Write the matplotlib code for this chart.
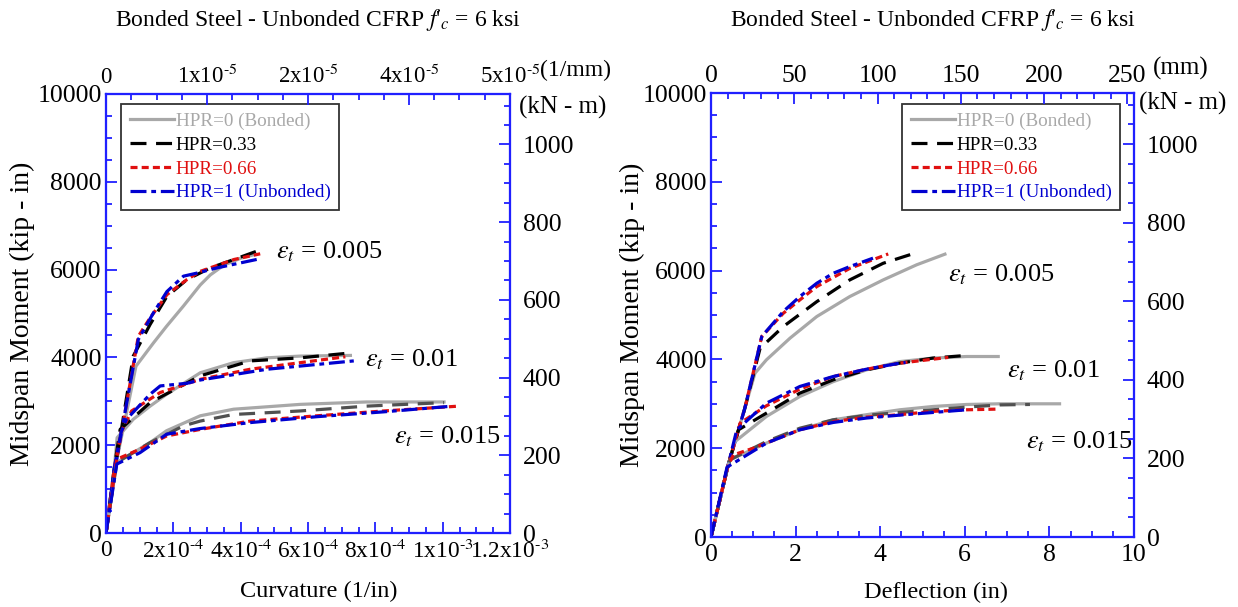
import numpy as np
import matplotlib
matplotlib.use("Agg")
import matplotlib.pyplot as plt
from matplotlib.ticker import MultipleLocator, FixedLocator

plt.rcParams['font.family'] = ['Liberation Serif', 'DejaVu Serif']
plt.rcParams['mathtext.fontset'] = 'stix'

# ---- data: curvature plot (1/in, kip-in) ----
# eps_t = 0.005
c005_x0 = [0, 0.3e-4, 0.6e-4, 0.89e-4, 1.41e-4, 1.8e-4, 2.3e-4, 2.8e-4, 3.1e-4, 3.5e-4, 4.0e-4, 4.4e-4]
c005_y0 = [0, 1600, 2700, 3800, 4330, 4710, 5170, 5650, 5880, 6100, 6260, 6340]
c005_x1 = [0, 0.3e-4, 0.55e-4, 0.81e-4, 1.31e-4, 1.81e-4, 2.4e-4, 3.1e-4, 3.8e-4, 4.48e-4]
c005_y1 = [0, 1600, 2800, 4030, 4750, 5390, 5770, 6040, 6230, 6420]
c005_x2 = [0, 0.3e-4, 0.6e-4, 0.96e-4, 1.31e-4, 1.81e-4, 2.4e-4, 2.8e-4, 3.8e-4, 4.58e-4]
c005_y2 = [0, 1600, 2900, 4480, 4900, 5430, 5770, 5960, 6230, 6360]
c005_x3 = [0, 0.3e-4, 0.6e-4, 0.96e-4, 1.41e-4, 1.81e-4, 2.3e-4, 2.7e-4, 3.3e-4, 4.53e-4]
c005_y3 = [0, 1600, 2900, 4410, 5015, 5500, 5850, 5920, 6040, 6240]
# eps_t = 0.01
c010_x0 = [0, 0.25e-4, 0.33e-4, 0.81e-4, 1.31e-4, 1.8e-4, 2.8e-4, 3.79e-4, 4.78e-4, 5.77e-4, 7.26e-4]
c010_y0 = [0, 1500, 2170, 2590, 2890, 3160, 3650, 3880, 3990, 4030, 4045]
c010_x1 = [0, 0.25e-4, 0.42e-4, 1.31e-4, 2.8e-4, 4.28e-4, 5.77e-4, 7.11e-4]
c010_y1 = [0, 1500, 2360, 2970, 3580, 3920, 3990, 4090]
c010_x2 = [0, 0.25e-4, 0.45e-4, 0.76e-4, 1.61e-4, 2.8e-4, 4.28e-4, 5.77e-4, 7.11e-4]
c010_y2 = [0, 1500, 2300, 2780, 3200, 3500, 3730, 3880, 4015]
c010_x3 = [0, 0.25e-4, 0.45e-4, 0.61e-4, 1.31e-4, 1.61e-4, 2.4e-4, 2.8e-4, 4.78e-4, 7.36e-4]
c010_y3 = [0, 1500, 2300, 2590, 3160, 3350, 3410, 3485, 3730, 3920]
# eps_t = 0.015
c015_x0 = [0, 0.32e-4, 1.31e-4, 1.8e-4, 2.8e-4, 3.79e-4, 5.77e-4, 7.74e-4, 10.04e-4]
c015_y0 = [0, 1606, 2060, 2330, 2670, 2820, 2930, 2985, 2985]
c015_x1 = [0, 0.32e-4, 1.31e-4, 2.3e-4, 2.8e-4, 3.79e-4, 5.77e-4, 7.74e-4, 10.04e-4]
c015_y1 = [0, 1606, 2060, 2440, 2550, 2700, 2780, 2890, 2970]
c015_x2 = [0, 0.32e-4, 1.01e-4, 1.8e-4, 2.8e-4, 4.28e-4, 6.27e-4, 8.25e-4, 10.48e-4]
c015_y2 = [0, 1680, 1910, 2210, 2360, 2550, 2670, 2780, 2890]
c015_x3 = [0, 0.32e-4, 1.01e-4, 1.8e-4, 2.8e-4, 4.28e-4, 6.27e-4, 8.25e-4, 10.14e-4]
c015_y3 = [0, 1570, 1830, 2250, 2380, 2515, 2650, 2760, 2880]

# ---- data: deflection plot (in, kip-in) ----
d005_x0 = [0, 0.4, 0.8, 1.04, 1.31, 1.87, 2.5, 3.28, 4.07, 4.86, 5.53]
d005_y0 = [0, 1600, 2900, 3690, 3990, 4480, 4965, 5415, 5790, 6130, 6370]
d005_x1 = [0, 0.4, 0.8, 1.16, 1.71, 2.5, 3.28, 4.07, 4.86]
d005_y1 = [0, 1600, 2900, 4250, 4740, 5300, 5790, 6165, 6405]
d005_x2 = [0, 0.4, 0.8, 1.2, 1.71, 2.1, 2.5, 3.28, 4.19]
d005_y2 = [0, 1600, 2900, 4515, 5040, 5340, 5640, 6050, 6375]
d005_x3 = [0, 0.4, 0.8, 1.2, 1.71, 2.1, 2.5, 2.89, 3.28, 3.83]
d005_y3 = [0, 1600, 2900, 4515, 5080, 5415, 5715, 5940, 6090, 6280]
d010_x0 = [0, 0.4, 0.57, 1.31, 2.1, 2.89, 3.68, 4.46, 5.25, 6.04, 6.79]
d010_y0 = [0, 1600, 2150, 2715, 3165, 3500, 3765, 3950, 4030, 4065, 4065]
d010_x1 = [0, 0.4, 0.65, 1.31, 2.1, 2.89, 3.68, 4.46, 5.25, 6.04]
d010_y1 = [0, 1600, 2415, 2790, 3240, 3540, 3765, 3915, 4030, 4090]
d010_x2 = [0, 0.4, 0.69, 1.31, 2.1, 2.89, 3.68, 4.46, 5.25, 5.61]
d010_y2 = [0, 1600, 2565, 2955, 3330, 3615, 3780, 3915, 4005, 4045]
d010_x3 = [0, 0.4, 0.61, 1.31, 2.1, 2.89, 3.68, 4.46, 4.6]
d010_y3 = [0, 1600, 2415, 3015, 3390, 3615, 3780, 3915, 3930]
d015_x0 = [0, 0.4, 0.45, 1.31, 2.1, 2.89, 3.68, 4.46, 5.25, 6.04, 6.83, 8.24]
d015_y0 = [0, 1600, 1740, 2115, 2415, 2640, 2755, 2865, 2940, 2985, 3000, 3000]
d015_x1 = [0, 0.4, 0.45, 1.31, 2.1, 2.89, 3.68, 4.46, 5.25, 6.04, 6.83, 7.54]
d015_y1 = [0, 1600, 1740, 2150, 2450, 2640, 2740, 2805, 2865, 2925, 2975, 2985]
d015_x2 = [0, 0.4, 0.53, 1.0, 2.1, 2.89, 3.68, 4.46, 5.25, 6.04, 6.75]
d015_y2 = [0, 1600, 1850, 2000, 2415, 2600, 2700, 2755, 2830, 2865, 2880]
d015_x3 = [0, 0.38, 1.31, 2.1, 2.89, 3.68, 4.46, 5.25, 6.04]
d015_y3 = [0, 1575, 2115, 2415, 2580, 2680, 2745, 2805, 2865]

labels = ['HPR=0 (Bonded)', 'HPR=0.33', 'HPR=0.66', 'HPR=1 (Unbonded)']
curv_ticks = [0, 2e-4, 4e-4, 6e-4, 8e-4, 1e-3, 1.2e-3]
curv_ticklabels = ['0', r'2x10$^{\text{-}4}$', r'4x10$^{\text{-}4}$', r'6x10$^{\text{-}4}$',
                   r'8x10$^{\text{-}4}$', r'1x10$^{\text{-}3}$', r'1.2x10$^{\text{-}3}$']
curv_top_labels = ['0', r'1x10$^{\text{-}5}$', r'2x10$^{\text{-}5}$', r'4x10$^{\text{-}5}$',
                   r'5x10$^{\text{-}5}$']
eps_labels = [r'$\varepsilon_{t}$ = 0.005', r'$\varepsilon_{t}$ = 0.01', r'$\varepsilon_{t}$ = 0.015']

KIPIN_TO_KNM = 0.1129848
BLUE_AX = '#2020ff'
colors = ['#a8a8a8', 'black', '#e01010', '#0000d0']
styles = [dict(ls='-'), dict(dashes=(5, 3)), dict(dashes=(2.2, 1.3)), dict(dashes=(5, 1.5, 1.5, 1.5))]
LW = 2.3

fig = plt.figure(figsize=(12.38, 6.07), dpi=100)
W, H = 1238, 607


def style_axis(a):
    for s in a.spines.values():
        s.set_color(BLUE_AX)
        s.set_linewidth(1.5)
    a.tick_params(which='both', direction='in', color=BLUE_AX, width=1.3, labelsize=18.5)
    a.tick_params(which='major', length=8)
    a.tick_params(which='minor', length=4)


def make_panel(px, xmax, curves, xticks, xticklabels, xlabel, eps_pos, leg_anchor,
               xlab_xy, ylab_x):
    l, r, t, b = px
    ax = fig.add_axes([l / W, 1 - b / H, (r - l) / W, (b - t) / H])
    for group, c_override in curves:
        for i, (xs, ys) in enumerate(group):
            col = colors[i]
            if i == 1 and c_override:
                col = '#505050'
            ax.plot(xs, ys, color=col, lw=LW, **styles[i])
    ax.set_xlim(0, xmax)
    ax.set_ylim(0, 10000)
    ax.set_xticks(xticks)
    ax.set_xticklabels(xticklabels)
    ax.set_yticks(np.arange(0, 10001, 2000))
    ax.yaxis.set_minor_locator(MultipleLocator(500))
    ax.set_xlabel(xlabel, fontsize=17.5)
    ax.xaxis.set_label_coords(*xlab_xy)
    ax.set_ylabel('Midspan Moment (kip - in)', fontsize=20)
    ax.yaxis.set_label_coords(ylab_x, 0.5)
    style_axis(ax)
    ax.tick_params(axis='x', which='both', pad=5)
    ax.tick_params(axis='y', which='both', pad=3)
    for (ex, ey), lab in zip(eps_pos, eps_labels):
        ax.text(ex, ey, lab, fontsize=19)
    handles = [plt.Line2D([], [], color=colors[i], lw=LW, **styles[i]) for i in range(4)]
    leg = ax.legend(handles, labels, loc='upper left', bbox_to_anchor=leg_anchor,
                    fontsize=13.8, frameon=True, fancybox=False, edgecolor='black',
                    handlelength=2.3, handletextpad=0.1, labelspacing=0.33,
                    borderpad=0.45, borderaxespad=0)
    leg.get_frame().set_linewidth(1.3)
    for txt, c in zip(leg.get_texts(), colors):
        txt.set_color(c)
    # right axis in kN-m
    axr = ax.twinx()
    axr.set_ylim(0, 10000 * KIPIN_TO_KNM)
    axr.set_yticks(np.arange(0, 1001, 200))
    axr.yaxis.set_minor_locator(MultipleLocator(50))
    style_axis(axr)
    axr.tick_params(axis='y', which='both', pad=9)
    return ax, axr


l_px = (106, 510, 94, 533)
r_px = (711, 1134, 93, 537)

ax1, ax1r = make_panel(
    l_px, 1.2e-3,
    [([(c005_x0, c005_y0), (c005_x1, c005_y1), (c005_x2, c005_y2), (c005_x3, c005_y3)], False),
     ([(c010_x0, c010_y0), (c010_x1, c010_y1), (c010_x2, c010_y2), (c010_x3, c010_y3)], False),
     ([(c015_x0, c015_y0), (c015_x1, c015_y1), (c015_x2, c015_y2), (c015_x3, c015_y3)], True)],
    curv_ticks, curv_ticklabels, 'Curvature (1/in)',
    [(5.05e-4, 6250), (7.7e-4, 3800), (8.55e-4, 2050)], (0.037, 0.977), (0.527, -0.11), -0.175)
ax1.xaxis.set_minor_locator(MultipleLocator(0.5e-4))
ax1.tick_params(axis='x', labelsize=16.8)

ax2, ax2r = make_panel(
    r_px, 10,
    [([(d005_x0, d005_y0), (d005_x1, d005_y1), (d005_x2, d005_y2), (d005_x3, d005_y3)], False),
     ([(d010_x0, d010_y0), (d010_x1, d010_y1), (d010_x2, d010_y2), (d010_x3, d010_y3)], False),
     ([(d015_x0, d015_y0), (d015_x1, d015_y1), (d015_x2, d015_y2), (d015_x3, d015_y3)], True)],
    list(range(0, 11, 2)), [str(v) for v in range(0, 11, 2)], 'Deflection (in)',
    [(5.6, 5750), (7.0, 3600), (7.45, 2000)], (0.4515, 0.975), (0.533, -0.1), -0.155)
ax2.xaxis.set_minor_locator(MultipleLocator(0.5))

# top axes
t1 = ax1.twiny()
t1.set_xlim(0, 1.2e-3 / 25.4)
t1.xaxis.set_major_locator(FixedLocator(np.linspace(0, 1.2e-3 / 25.4, 5)))
t1.xaxis.set_minor_locator(FixedLocator(np.linspace(0, 1.2e-3 / 25.4, 17)))
t1.set_xticklabels(curv_top_labels)
style_axis(t1)
t1.tick_params(axis='x', which='both', pad=4, labelsize=16.5)

t2 = ax2.twiny()
t2.set_xlim(0, 254)
t2.set_xticks(np.arange(0, 251, 50))
t2.xaxis.set_minor_locator(MultipleLocator(10))
style_axis(t2)
t2.tick_params(axis='x', which='both', pad=4)

fig.text(540 / W, 1 - 70 / H, '(1/mm)', fontsize=17, va='center', ha='left')
fig.text(1153 / W, 1 - 68 / H, '(mm)', fontsize=18, va='center', ha='left')
fig.text(519 / W, 1 - 107 / H, '(kN - m)', fontsize=18, va='center', ha='left')
fig.text(1139 / W, 1 - 103 / H, '(kN - m)', fontsize=18, va='center', ha='left')

title = "Bonded Steel - Unbonded CFRP $f$'$_{c}$ = 6 ksi"
fig.text(318 / W, 1 - 20 / H, title, fontsize=17, ha='center', va='center')
fig.text(933 / W, 1 - 20 / H, title, fontsize=17, ha='center', va='center')

fig.savefig('out.png', dpi=100)
